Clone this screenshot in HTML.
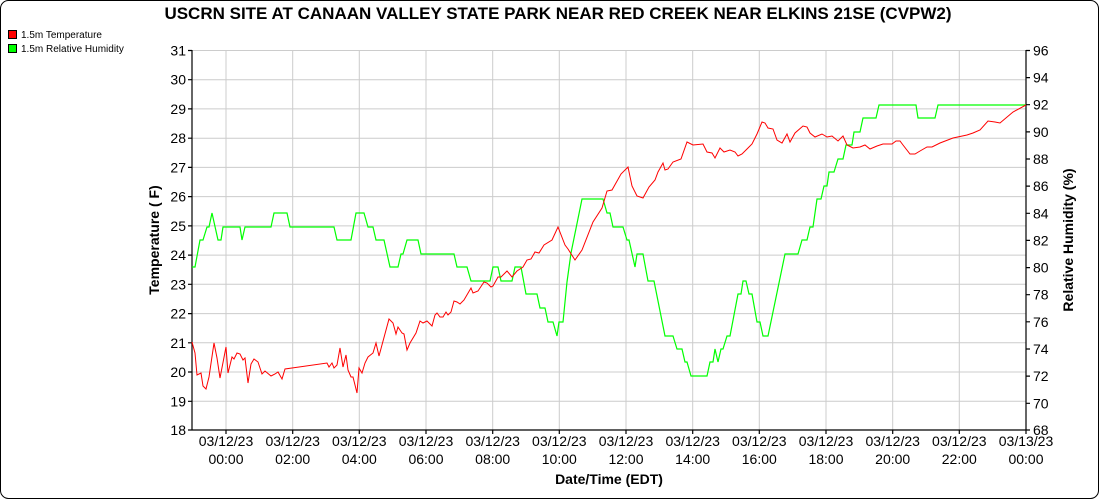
<!DOCTYPE html>
<html><head><meta charset="utf-8"><style>
html,body{margin:0;padding:0;background:#fff}
svg{display:block;font-family:"Liberation Sans",Arial,sans-serif}
</style></head><body>
<svg width="1100" height="500" viewBox="0 0 1100 500" xmlns="http://www.w3.org/2000/svg">
<rect x="0.5" y="0.5" width="1098" height="498" rx="8" fill="#fff" stroke="#000" stroke-width="1"/>
<text x="558" y="19" text-anchor="middle" font-size="17" font-weight="bold">USCRN SITE AT CANAAN VALLEY STATE PARK NEAR RED CREEK NEAR ELKINS 21SE (CVPW2)</text>
<rect x="8.5" y="30.5" width="8" height="8" fill="#f00" stroke="#000"/>
<text x="21" y="38" font-size="10">1.5m Temperature</text>
<rect x="8.5" y="44.5" width="8" height="8" fill="#0f0" stroke="#000"/>
<text x="21" y="52" font-size="10">1.5m Relative Humidity</text>
<g stroke="#ccc" stroke-width="1">
<line x1="192" x2="1026" y1="50.5" y2="50.5"/><line x1="192" x2="1026" y1="79.7" y2="79.7"/><line x1="192" x2="1026" y1="108.9" y2="108.9"/><line x1="192" x2="1026" y1="138.2" y2="138.2"/><line x1="192" x2="1026" y1="167.4" y2="167.4"/><line x1="192" x2="1026" y1="196.6" y2="196.6"/><line x1="192" x2="1026" y1="225.9" y2="225.9"/><line x1="192" x2="1026" y1="255.1" y2="255.1"/><line x1="192" x2="1026" y1="284.3" y2="284.3"/><line x1="192" x2="1026" y1="313.6" y2="313.6"/><line x1="192" x2="1026" y1="342.8" y2="342.8"/><line x1="192" x2="1026" y1="372" y2="372"/><line x1="192" x2="1026" y1="401.3" y2="401.3"/>
<line y1="50" y2="430" x1="226" x2="226"/><line y1="50" y2="430" x1="292.7" x2="292.7"/><line y1="50" y2="430" x1="359.3" x2="359.3"/><line y1="50" y2="430" x1="426" x2="426"/><line y1="50" y2="430" x1="492.7" x2="492.7"/><line y1="50" y2="430" x1="559.3" x2="559.3"/><line y1="50" y2="430" x1="626" x2="626"/><line y1="50" y2="430" x1="692.7" x2="692.7"/><line y1="50" y2="430" x1="759.3" x2="759.3"/><line y1="50" y2="430" x1="826" x2="826"/><line y1="50" y2="430" x1="892.7" x2="892.7"/><line y1="50" y2="430" x1="959.3" x2="959.3"/>
</g>
<g stroke="#000" stroke-width="1.2" fill="none">
<line x1="192" y1="50" x2="192" y2="430"/><line x1="1026" y1="50" x2="1026" y2="430"/><line x1="192" y1="430" x2="1026" y2="430"/>
<path d="M188 50.5h4M188 79.7h4M188 108.9h4M188 138.2h4M188 167.4h4M188 196.6h4M188 225.9h4M188 255.1h4M188 284.3h4M188 313.6h4M188 342.8h4M188 372h4M188 401.3h4M188 430h4"/>
<path d="M1026 50.5h4M1026 77.6h4M1026 104.7h4M1026 131.9h4M1026 159h4M1026 186.1h4M1026 213.3h4M1026 240.4h4M1026 267.6h4M1026 294.7h4M1026 321.8h4M1026 349h4M1026 376.1h4M1026 403.3h4M1026 430h4"/>
<path d="M226 430v4M292.7 430v4M359.3 430v4M426 430v4M492.7 430v4M559.3 430v4M626 430v4M692.7 430v4M759.3 430v4M826 430v4M892.7 430v4M959.3 430v4M1026 430v4"/>
</g>
<g font-size="14" text-anchor="end">
<text x="186" y="55.5">31</text><text x="186" y="84.7">30</text><text x="186" y="113.9">29</text><text x="186" y="143.2">28</text><text x="186" y="172.4">27</text><text x="186" y="201.6">26</text><text x="186" y="230.9">25</text><text x="186" y="260.1">24</text><text x="186" y="289.3">23</text><text x="186" y="318.6">22</text><text x="186" y="347.8">21</text><text x="186" y="377">20</text><text x="186" y="406.3">19</text><text x="186" y="435">18</text>
</g>
<g font-size="14">
<text x="1033" y="55.5">96</text><text x="1033" y="82.6">94</text><text x="1033" y="109.7">92</text><text x="1033" y="136.9">90</text><text x="1033" y="164">88</text><text x="1033" y="191.1">86</text><text x="1033" y="218.3">84</text><text x="1033" y="245.4">82</text><text x="1033" y="272.6">80</text><text x="1033" y="299.7">78</text><text x="1033" y="326.8">76</text><text x="1033" y="354">74</text><text x="1033" y="381.1">72</text><text x="1033" y="408.3">70</text><text x="1033" y="435">68</text>
</g>
<g font-size="14" text-anchor="middle">
<text x="226" y="446">03/12/23</text><text x="226" y="464">00:00</text>
<text x="292.7" y="446">03/12/23</text><text x="292.7" y="464">02:00</text>
<text x="359.3" y="446">03/12/23</text><text x="359.3" y="464">04:00</text>
<text x="426" y="446">03/12/23</text><text x="426" y="464">06:00</text>
<text x="492.7" y="446">03/12/23</text><text x="492.7" y="464">08:00</text>
<text x="559.3" y="446">03/12/23</text><text x="559.3" y="464">10:00</text>
<text x="626" y="446">03/12/23</text><text x="626" y="464">12:00</text>
<text x="692.7" y="446">03/12/23</text><text x="692.7" y="464">14:00</text>
<text x="759.3" y="446">03/12/23</text><text x="759.3" y="464">16:00</text>
<text x="826" y="446">03/12/23</text><text x="826" y="464">18:00</text>
<text x="892.7" y="446">03/12/23</text><text x="892.7" y="464">20:00</text>
<text x="959.3" y="446">03/12/23</text><text x="959.3" y="464">22:00</text>
<text x="1026" y="446">03/13/23</text><text x="1026" y="464">00:00</text>
</g>
<text x="609" y="484" text-anchor="middle" font-size="14" font-weight="bold">Date/Time (EDT)</text>
<text transform="translate(159,240) rotate(-90)" text-anchor="middle" font-size="14" font-weight="bold">Temperature ( F)</text>
<text transform="translate(1073,240) rotate(-90)" text-anchor="middle" font-size="14" font-weight="bold">Relative Humidity (%)</text>
<polyline fill="none" stroke="#00ff00" stroke-width="1.2" points="192,267 195,267 200,240 203,240 207,227 209,227 212,213 218,240 221,240 223,227 240,227 242,240 245,227 271,227 274,213 287,213 290,227 334,227 337,240 351,240 356,213 364,213 368,227 373,227 376,240 384,240 390,267 398,267 401,254 403,254 407,240 418,240 421,254 454,254 457,267 467,267 471,281 490,281 493,267 498,267 501,281 512,281 515,267 521,267 526,294 537,294 540,308 545,308 548,322 553,322 557,336 559,322 563,322 567,282 571,253 582,199 603,199 607,213 610,213 613,227 623,227 627,240 629,240 635,267 637,254 643,254 648,281 654,281 665,336 673,336 677,349 682,349 685,362 687,362 691,376 707,376 710,362 713,362 715,349 718,362 721,349 723,349 727,336 730,336 738,294 741,294 743,281 746,281 749,294 752,294 757,322 760,322 763,336 768,336 785,254 798,254 802,240 807,240 810,227 813,227 817,199 821,199 824,186 827,186 829,172 834,172 838,159 843,159 846,145 852,145 854,132 860,132 863,118 876,118 879,105 916,105 918,118 935,118 938,105 1026,105"/>
<polyline fill="none" stroke="#ff0000" stroke-width="1" points="192,342 195,353 197,375 201,373 203,386 206,389 209,377 214,343 217,358 220,378 226,347 228,373 232,357 234,359 237,353 240,354 243,360 245,358 248,383 251,364 254,359 258,362 262,374 265,371 271,376 275,374 278,372 282,379 285,369 292,368 327,363 329,367 332,363 334,368 337,365 340,348 343,367 346,355 348,370 351,377 353,377 357,393 359,368 362,373 365,363 368,357 373,353 376,343 379,356 389,319 393,323 396,334 398,327 402,333 404,334 407,350 410,343 416,333 420,321 423,323 427,321 429,323 432,326 435,315 437,313 440,317 443,317 446,312 448,315 451,312 454,301 457,302 460,304 464,300 471,288 473,293 478,291 484,282 487,283 491,287 493,286 498,277 501,277 507,271 512,277 517,271 523,267 527,260 531,259 535,252 539,253 544,245 552,240 558,227 565,245 568,249 575,260 582,250 593,222 602,208 607,191 612,190 621,174 628,167 632,186 637,196 643,198 649,187 655,180 658,172 663,163 665,170 668,169 673,162 681,159 687,142 693,145 703,144 707,152 712,153 715,158 720,148 724,152 730,150 735,152 738,156 742,154 747,149 752,144 757,134 762,122 765,123 768,128 773,129 777,140 782,143 787,134 790,142 795,133 803,126 807,127 810,133 815,137 822,134 827,137 832,136 838,141 843,136 847,145 853,148 860,147 865,145 870,149 877,146 883,144 892,144 896,141 900,141 903,145 910,154 915,154 920,151 927,147 932,147 940,143 953,138 967,135 973,133 980,130 988,121 995,122 1000,123 1013,112 1026,105"/>
</svg>
</body></html>
